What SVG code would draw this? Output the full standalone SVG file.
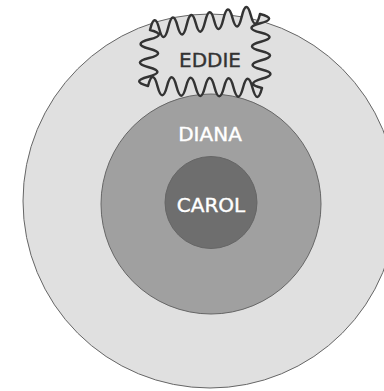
<svg xmlns="http://www.w3.org/2000/svg" width="384" height="391" viewBox="0 0 384 391">
<style>
.ring{stroke:#666;stroke-width:1}
.lbl{font-family:"DejaVu Sans",sans-serif;font-size:20px;text-anchor:middle;stroke-width:0.4}
</style>
<rect width="384" height="391" fill="#ffffff"/>
<g id="outer"><circle class="ring" cx="210" cy="201" r="187" fill="#e0e0e0"/></g>
<g id="diana">
<circle class="ring" cx="211" cy="204" r="110" fill="#a0a0a0"/>
<text class="lbl" x="210" y="141" fill="#ffffff" stroke="#ffffff">DIANA</text>
</g>
<g id="carol">
<circle class="ring" cx="211" cy="202.5" r="46" fill="#6e6e6e"/>
<text class="lbl" x="211" y="212" fill="#ffffff" stroke="#ffffff">CAROL</text>
</g>
<g id="eddie">
<path d="M150,30 Q154.6,11.3 159.2,28.7 T168.3,27.3 T177.5,26 T186.7,24.7 T195.8,23.3 T205,22 T214.2,20.7 T223.3,19.3 T232.5,18 T241.7,16.7 T250.8,15.3 T260,14 Q278.1,18.6 260.3,23.3 T260.5,32.5 T260.8,41.8 T261,51 T261.3,60.3 T261.5,69.5 T261.8,78.8 T262,88 Q257.3,105.9 252.5,87.8 T243,87.7 T233.5,87.5 T224,87.3 T214.5,87.2 T205,87 T195.5,86.8 T186,86.7 T176.5,86.5 T167,86.3 T157.5,86.2 T148,86 Q130.2,81.3 148.3,76.7 T148.7,67.3 T149,58 T149.3,48.7 T149.7,39.3 T150,30 Z" fill="#e0e0e0" stroke="#333" stroke-width="2.5" stroke-linejoin="round"/>
<text class="lbl" x="210" y="67" fill="#333" stroke="#333">EDDIE</text>
</g>
<g id="connectors"></g>
</svg>
